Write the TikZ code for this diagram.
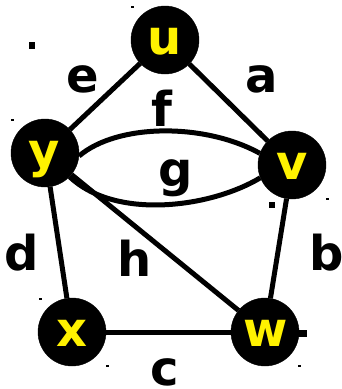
\documentclass[tikz,border=0pt]{standalone}
\usepackage{fontspec}
\setmainfont{DejaVu Sans}
\usetikzlibrary{backgrounds}
\begin{document}
\begin{tikzpicture}[x=1pt,y=-1pt,
  vertex/.style={circle,fill=black,draw=black,minimum size=68pt,inner sep=0pt},
  vname/.style={text=yellow,anchor=base,font=\fontsize{48}{56}\selectfont\bfseries},
  elabel/.style={text=black,anchor=base,font=\fontsize{48}{56}\selectfont\bfseries},
  edge/.style={line width=5pt,draw=black},
  speck/.style={fill=black}]
\useasboundingbox (0,0) rectangle (342,389);
% vertices
\node[vertex] (u) at (165,40) {};
\node[vertex] (y) at (45,153) {};
\node[vertex] (v) at (292,165) {};
\node[vertex] (x) at (72,332) {};
\node[vertex] (w) at (265,332) {};
\node[vname] (lu) at (165,54) {u};
\node[vname] (ly) at (44,167) {y};
\node[vname] (lv) at (292,179) {v};
\node[vname] (lx) at (72,346) {x};
\node[vname] (lw) at (266,346) {w};
% edges
\begin{pgfonlayer}{background}
\draw[edge] (u) -- (y);
\draw[edge] (u) -- (v);
\draw[edge] (y) -- (x);
\draw[edge] (y) -- (w);
\draw[edge] (v) -- (w);
\draw[edge] (x) -- (w);
\draw[edge] (y.-5) .. controls (118,123) and (205,123) .. (v.160);
\draw[edge] (y.-44) .. controls (115,220) and (210,208) .. (v.202);
\end{pgfonlayer}
% edge labels
\node[elabel] (le) at (83,92) {e};
\node[elabel] (la) at (262,92) {a};
\node[elabel] (lf) at (162,126) {f};
\node[elabel] (lg) at (176,186) {g};
\node[elabel] (ld) at (22,270) {d};
\node[elabel] (lh) at (135,276) {h};
\node[elabel] (lb) at (327,270) {b};
\node[elabel] (lc) at (165,385) {c};
% stray marks
\fill[speck] (29,42) rectangle (35,49);
\fill[speck] (269,202) rectangle (275,208);
\fill[speck] (298,330) rectangle (307,337);
\fill[speck] (131,6) rectangle (134,8);
\fill[speck] (11,119) rectangle (14,121);
\fill[speck] (259,131) rectangle (262,133);
\fill[speck] (326,198) rectangle (329,200);
\fill[speck] (39,298) rectangle (42,300);
\fill[speck] (106,365) rectangle (109,367);
\fill[speck] (298,365) rectangle (301,367);
\end{tikzpicture}
\end{document}
